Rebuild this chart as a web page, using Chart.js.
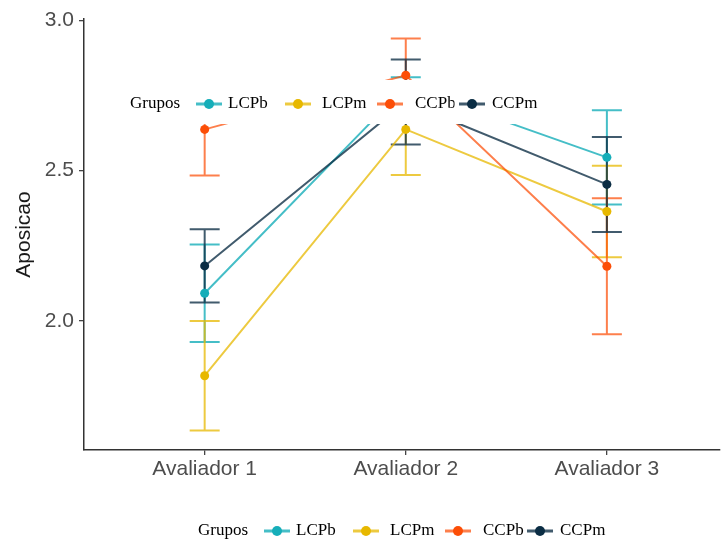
<!DOCTYPE html>
<html>
<head>
<meta charset="utf-8">
<script src="https://cdn.jsdelivr.net/npm/chart.js@4.4.1/dist/chart.umd.min.js"></script>
<style>
  body { margin: 0; background: #fff; }
  #wrap { width: 724px; height: 546px; }
</style>
</head>
<body>
<div id="wrap"><canvas id="grafico" width="724" height="546"></canvas></div>
<script>
const avaliadores = ['Avaliador 1', 'Avaliador 2', 'Avaliador 3'];
const grupos = ['LCPb', 'LCPm', 'CCPb', 'CCPm'];

// media e erro padrao por grupo
const lcpbMedia = [2.092, 2.780, 2.544];
const lcpbErro  = [0.162, 0.030, 0.157];
const lcpmMedia = [1.818, 2.637, 2.364];
const lcpmErro  = [0.182, 0.152, 0.152];
const ccpbMedia = [2.637, 2.817, 2.182];
const ccpbErro  = [0.153, 0.122, 0.226];
const ccpmMedia = [2.183, 2.728, 2.454];
const ccpmErro  = [0.122, 0.141, 0.158];

const yTicks = [2.0, 2.5, 3.0];

const cores = ['#16AEB9', '#E7B800', '#FC4E07', '#0B2D44'];
const coresLinha = ['rgba(22,174,185,0.8)', 'rgba(231,184,0,0.75)', 'rgba(252,78,7,0.72)', 'rgba(11,45,68,0.78)'];

const medias = [lcpbMedia, lcpmMedia, ccpbMedia, ccpmMedia];
const erros = [lcpbErro, lcpmErro, ccpbErro, ccpmErro];

const datasets = grupos.map((g, k) => ({
  label: g,
  data: medias[k].map((v, i) => ({ x: i + 1, y: v })),
  borderColor: coresLinha[k],
  backgroundColor: cores[k],
  pointBackgroundColor: cores[k],
  pointBorderWidth: 0,
  pointRadius: 4.5,
  borderWidth: 2,
  tension: 0,
  order: grupos.length - k
}));

// barras de erro (media +- erro) desenhadas antes das linhas
const barrasErro = {
  id: 'barrasErro',
  beforeDatasetsDraw(chart) {
    const { ctx, chartArea, scales: { x, y } } = chart;
    ctx.save();
    ctx.beginPath();
    ctx.rect(chartArea.left, chartArea.top, chartArea.right - chartArea.left, chartArea.bottom - chartArea.top);
    ctx.clip();
    ctx.lineWidth = 2;
    medias.forEach((m, k) => {
      ctx.strokeStyle = coresLinha[k];
      m.forEach((v, i) => {
        const px = x.getPixelForValue(i + 1);
        const yt = y.getPixelForValue(v + erros[k][i]);
        const yb = y.getPixelForValue(v - erros[k][i]);
        ctx.beginPath();
        ctx.moveTo(px, yt); ctx.lineTo(px, yb);
        ctx.moveTo(px - 15, yt); ctx.lineTo(px + 15, yt);
        ctx.moveTo(px - 15, yb); ctx.lineTo(px + 15, yb);
        ctx.stroke();
      });
    });
    ctx.restore();
  }
};

// legenda horizontal "Grupos", usada duas vezes
function desenhaLegenda(ctx, x0, yc, fundo) {
  ctx.save();
  ctx.font = '17px "Liberation Serif", serif';
  ctx.textBaseline = 'middle';
  ctx.fillStyle = '#000';
  if (fundo) {
    ctx.fillStyle = '#fff';
    ctx.fillRect(x0 - 8, yc - 24, 435, 44);
    ctx.fillStyle = '#000';
  }
  ctx.fillText('Grupos', x0, yc);
  const chaves = [79, 168, 260, 342];
  const rotulos = [98, 192, 285, 362];
  grupos.forEach((g, k) => {
    const cx = x0 + chaves[k];
    if (fundo) {
      ctx.fillStyle = '#fff';
      ctx.fillRect(cx - 17.5, yc - 12, 35, 24);
    }
    ctx.strokeStyle = coresLinha[k];
    ctx.lineWidth = 3;
    ctx.beginPath();
    ctx.moveTo(cx - 13, yc); ctx.lineTo(cx + 13, yc);
    ctx.stroke();
    ctx.fillStyle = cores[k];
    ctx.beginPath();
    ctx.arc(cx, yc, 5, 0, Math.PI * 2);
    ctx.fill();
    ctx.fillStyle = '#000';
    ctx.fillText(g, x0 + rotulos[k], yc);
  });
  ctx.restore();
}

const legendas = {
  id: 'legendas',
  afterDatasetsDraw(chart) {
    desenhaLegenda(chart.ctx, 130, 104, true);
  },
  afterDraw(chart) {
    desenhaLegenda(chart.ctx, 198, 531, false);
  }
};

const config = {
  type: 'line',
  data: { datasets },
  options: {
    responsive: false,
    animation: false,
    devicePixelRatio: 1,
    layout: { padding: { top: 19, right: -4, bottom: 66, left: 0 } },
    plugins: { legend: { display: false }, tooltip: { enabled: false } },
    scales: {
      x: {
        type: 'linear',
        min: 0.4,
        max: 3.56,
        afterFit: s => { s.height = 30; },
        afterBuildTicks: s => { s.ticks = avaliadores.map((a, i) => ({ value: i + 1 })); },
        grid: { drawOnChartArea: false, drawTicks: true, tickLength: 5, color: '#444', lineWidth: 1.3 },
        border: { display: true, color: '#333', width: 1.5 },
        ticks: {
          padding: 2,
          color: '#4d4d4d',
          font: { family: '"Liberation Sans", Arial, sans-serif', size: 21 },
          maxRotation: 0,
          callback: v => avaliadores[v - 1]
        }
      },
      y: {
        type: 'linear',
        min: 1.571,
        max: 3.004,
        afterFit: s => { s.width = 84; },
        afterBuildTicks: s => { s.ticks = yTicks.map(v => ({ value: v })); },
        grid: { drawOnChartArea: false, drawTicks: true, tickLength: 5, color: '#444', lineWidth: 1.3 },
        border: { display: true, color: '#333', width: 1.5 },
        ticks: {
          padding: 5,
          color: '#4d4d4d',
          font: { family: '"Liberation Sans", Arial, sans-serif', size: 21 },
          callback: v => v.toFixed(1)
        },
        title: {
          display: true,
          text: 'Aposicao',
          color: '#1a1a1a',
          padding: { top: 12, bottom: 0 },
          font: { family: '"Liberation Sans", Arial, sans-serif', size: 21 }
        }
      }
    }
  },
  plugins: [barrasErro, legendas]
};

const grafico = new Chart(document.getElementById('grafico'), config);
</script>
</body>
</html>
